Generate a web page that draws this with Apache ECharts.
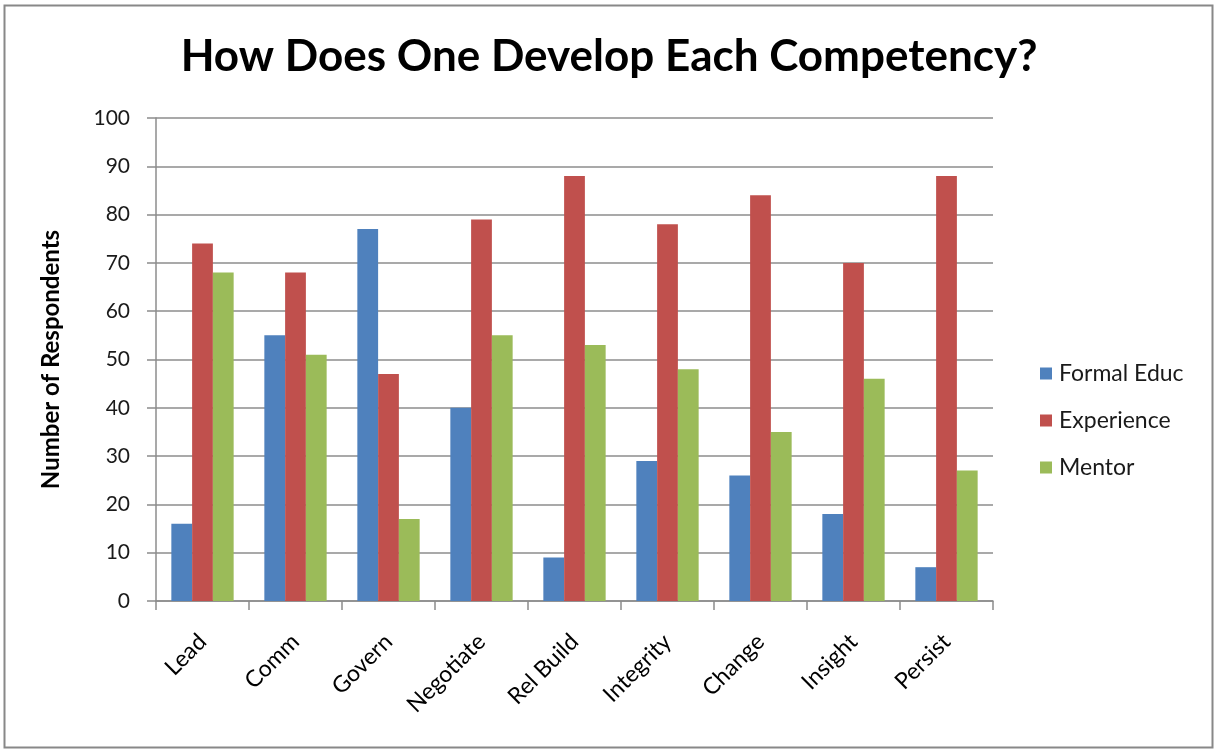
<!DOCTYPE html>
<html>
<head>
<meta charset="utf-8">
<script src="https://cdn.jsdelivr.net/npm/echarts@6/dist/echarts.min.js"></script>
<style>
  html, body { margin: 0; padding: 0; background: #ffffff; }
  #chart { width: 1218px; height: 753px; }
</style>
</head>
<body>
<div id="chart"></div>
<script>
// Competencies surveyed
const categories = ['Lead', 'Comm', 'Govern', 'Negotiate', 'Rel Build', 'Integrity', 'Change', 'Insight', 'Persist'];

// Respondent counts per development route
const formalEduc = [16, 55, 77, 40, 9, 29, 26, 18, 7];
const experience = [74, 68, 47, 79, 88, 78, 84, 70, 88];
const mentor     = [68, 51, 17, 55, 53, 48, 35, 46, 27];

const seriesNames = ['Formal Educ', 'Experience', 'Mentor'];
const seriesColors = ['#4F81BD', '#C0504D', '#9BBB59'];
const seriesValues = [formalEduc, experience, mentor];

const FONT = 'Lato, "Open Sans", sans-serif';
const gridColor = '#8C8C8C';

const chart = echarts.init(document.getElementById('chart'), null, { renderer: 'canvas' });

chart.setOption({
  backgroundColor: '#ffffff',
  animation: false,
  title: {
    text: 'How Does One Develop Each Competency?',
    left: 'center',
    top: 30,
    textStyle: { fontFamily: FONT, fontSize: 44, fontWeight: 'bold', color: '#000000' }
  },
  graphic: [{
    type: 'rect',
    shape: { x: 4.5, y: 5.5, width: 1208, height: 742 },
    style: { fill: 'none', stroke: '#888888', lineWidth: 2 },
    silent: true
  }],
  legend: {
    orient: 'vertical',
    left: 1035,
    top: 357,
    itemWidth: 12,
    itemHeight: 12,
    itemGap: 24,
    icon: 'rect',
    textStyle: { fontFamily: FONT, fontSize: 23, color: '#1a1a1a', padding: [0, 0, 0, 2] },
    data: seriesNames
  },
  grid: { left: 156, right: 225, top: 118, bottom: 152, containLabel: false },
  xAxis: {
    type: 'category',
    data: categories,
    boundaryGap: true,
    axisLine: { show: true, lineStyle: { color: gridColor, width: 1.5 } },
    axisTick: { show: true, inside: false, length: 9, alignWithLabel: false, lineStyle: { color: gridColor, width: 1.5 } },
    axisLabel: {
      rotate: 45,
      margin: 37,
      fontFamily: FONT,
      fontSize: 23,
      color: '#000000',
      interval: 0
    }
  },
  yAxis: {
    type: 'value',
    min: 0,
    max: 100,
    interval: 10,
    name: 'Number of Respondents',
    nameLocation: 'middle',
    nameGap: 93,
    nameRotate: 90,
    nameTextStyle: { fontFamily: FONT, fontSize: 24, fontWeight: 'bold', color: '#000000' },
    axisLine: { show: true, lineStyle: { color: gridColor, width: 1.5 } },
    axisTick: { show: true, inside: false, length: 9, lineStyle: { color: gridColor, width: 1.5 } },
    axisLabel: { margin: 26, fontFamily: FONT, fontSize: 21, color: '#1a1a1a' },
    splitLine: { show: true, lineStyle: { color: gridColor, width: 1.5 } }
  },
  series: seriesNames.map((name, i) => ({
    name: name,
    type: 'bar',
    data: seriesValues[i],
    barGap: '0%',
    barCategoryGap: '33%',
    itemStyle: { color: seriesColors[i] }
  }))
});
</script>
</body>
</html>
